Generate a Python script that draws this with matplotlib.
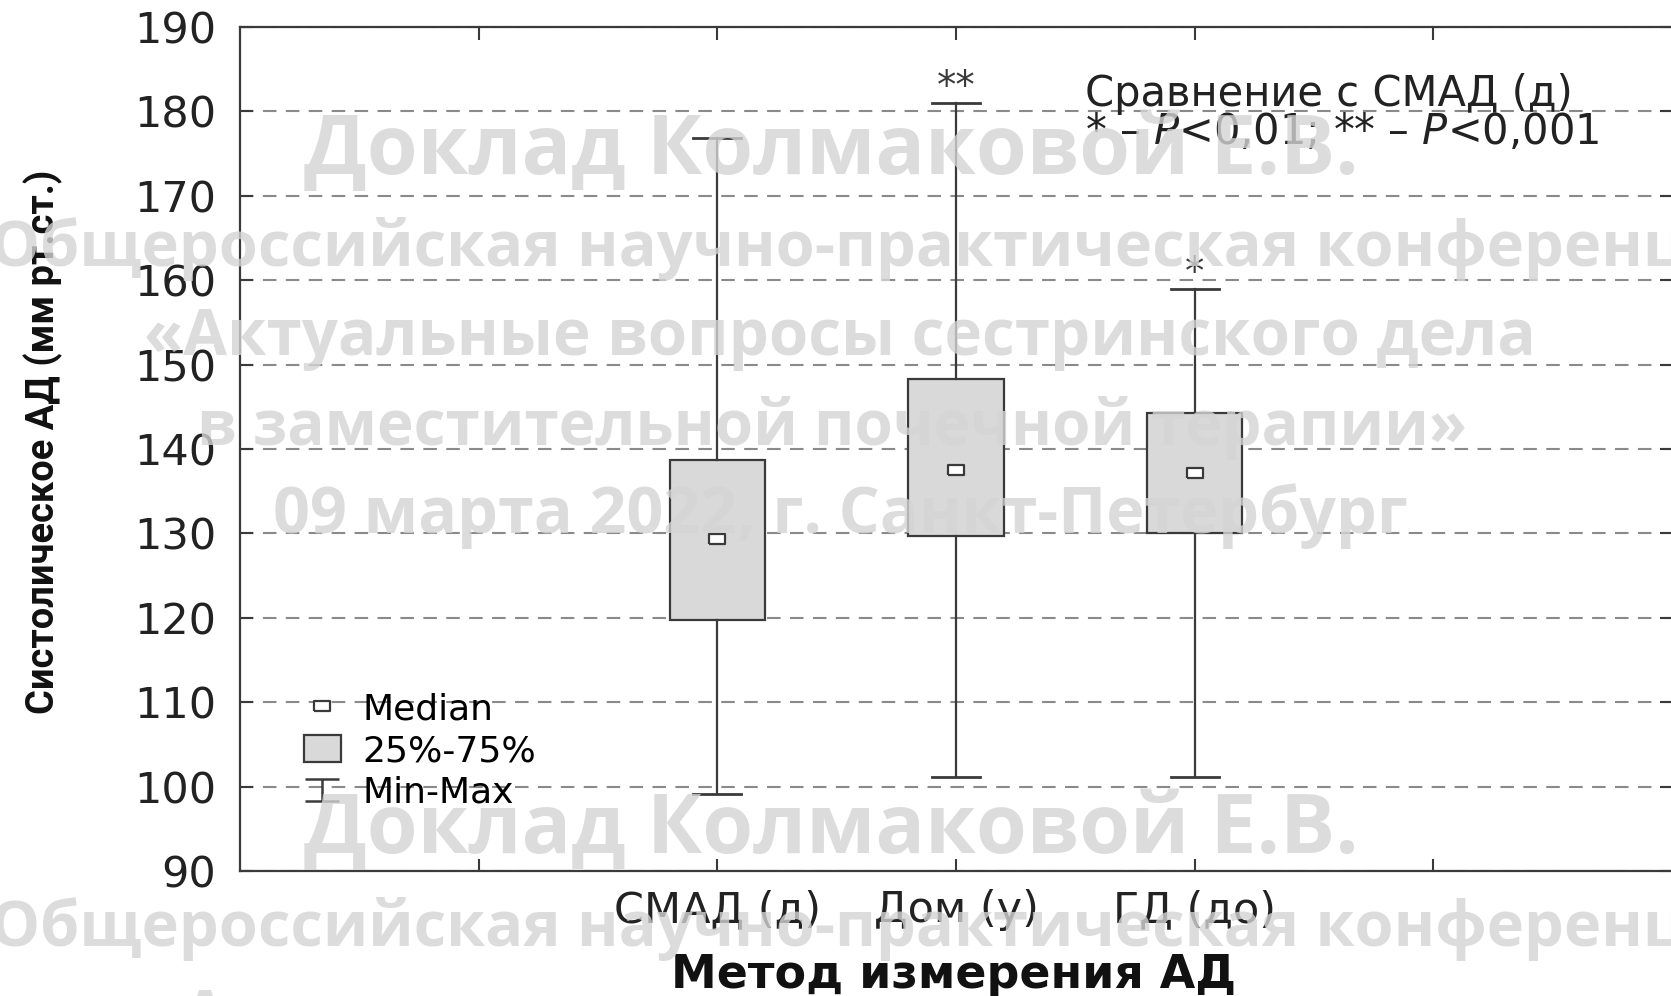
import matplotlib
matplotlib.use("Agg")
import matplotlib.pyplot as plt
from matplotlib.lines import Line2D
from matplotlib.patches import Patch
from matplotlib.path import Path

# data
categories = ['СМАД (д)', 'Дом (у)', 'ГД (до)']
positions = [2, 3, 4]
q1 = [119.7, 129.7, 130.0]
median = [129.3, 137.5, 137.2]
q3 = [138.7, 148.3, 144.3]
vmin = [99.1, 101.1, 101.1]
vmax = [176.8, 181.0, 158.9]
stars = ['', '**', '*']
yticks = list(range(90, 191, 10))

watermark = ['Доклад Колмаковой Е.В.',
             'Общероссийская научно-практическая конференция',
             '«Актуальные вопросы сестринского дела',
             'в заместительной почечной терапии»',
             '09 марта 2022, г. Санкт-Петербург',
             'Доклад Колмаковой Е.В.',
             'Общероссийская научно-практическая конференция',
             '«Актуальные вопросы сестринского дела']
# pixel layout of the watermark lines: centre x, baseline y, width
wm_x = [831, 880, 840, 832, 840, 831, 880, 840]
wm_y = [174, 266, 355, 445, 533, 853, 946, 1036]
wm_w = [1055, 1780, 1391, 1271, 1135, 1055, 1780, 1391]

plt.rcParams['font.family'] = ['DejaVu Sans']
dark = '#3a3a3a'
box_fill = '#d9d9d9'

W, H = 1671, 996
fig = plt.figure(figsize=(W / 100, H / 100), dpi=100)
ax = fig.add_axes([240 / W, 1 - 871 / H, (1672 - 240) / W, (871 - 27) / H])
renderer = fig.canvas.get_renderer()


def fit(txt, target, vertical=False):
    # scale font so the text spans the same length as in the reference
    bb = txt.get_window_extent(renderer)
    size = bb.height if vertical else bb.width
    txt.set_fontsize(txt.get_fontsize() * target / size)


stats = [dict(med=m, q1=a, q3=b, whislo=lo, whishi=hi, fliers=[])
         for m, a, b, lo, hi in zip(median, q1, q3, vmin, vmax)]
ax.bxp(stats, positions=positions, widths=0.4, capwidths=0.2,
       patch_artist=True, showfliers=False,
       boxprops=dict(facecolor=box_fill, edgecolor=dark, linewidth=1.6),
       whiskerprops=dict(color=dark, linewidth=1.6),
       capprops=dict(color=dark, linewidth=2.0),
       medianprops=dict(linewidth=0), zorder=3)

rect = Path([(-1, -0.7), (1, -0.7), (1, 0.7), (-1, 0.7), (-1, -0.7)])
ax.plot(positions, median, ls='none', marker=rect, ms=11, mfc='white',
        mec=dark, mew=1.6, zorder=4)

for x, hi, s in zip(positions, vmax, stars):
    if s:
        ax.text(x, hi + 0.6, s, ha='center', va='baseline', fontsize=28,
                color=dark)

ax.text(3.54, 182.1, 'Сравнение с СМАД (д)', fontsize=30, va='center',
        color='#222222')
ax.text(3.54, 177.6, '* – $P$<0,01; ** – $P$<0,001', fontsize=30,
        va='center', color='#222222')

ax.set_xlim(0, 6)
ax.set_ylim(90, 190)
ax.set_yticks(yticks)
ax.set_xticks([1, 2, 3, 4, 5], ['', *categories, ''])
ax.yaxis.grid(True, color='#8a8a8a', linewidth=1.5, linestyle=(0, (6.5, 4.5)))
ax.set_axisbelow(True)
ax.tick_params(axis='both', direction='in', length=9, width=1.5,
               color=dark, labelsize=31, labelcolor='#222222')
ax.tick_params(axis='y', pad=17, right=True)
ax.tick_params(axis='x', pad=13, top=True)
for sp in ax.spines.values():
    sp.set_color(dark)
    sp.set_linewidth(1.6)

# legend
ibeam = Path([(-1, 0.65), (1, 0.65), (0, 0.65), (0, -0.65), (-1, -0.65), (1, -0.65)],
             [Path.MOVETO, Path.LINETO, Path.MOVETO, Path.LINETO, Path.MOVETO, Path.LINETO])
handles = [Line2D([], [], ls='none', marker=rect, ms=11, mfc='white', mec=dark, mew=1.6),
           Patch(facecolor=box_fill, edgecolor=dark, linewidth=1.6),
           Line2D([], [], ls='none', marker=ibeam, ms=24, mfc='none', mec=dark, mew=1.8)]
ax.legend(handles, ['Median', '25%-75%', 'Min-Max'], loc='upper left',
          bbox_to_anchor=(0.045, 0.212), frameon=False, fontsize=26,
          handlelength=1.0, handleheight=0.8, handletextpad=0.6,
          labelspacing=0.22, borderpad=0, borderaxespad=0)

ylab = fig.text(43 / W, 1 - 442 / H, 'Систолическое АД (мм рт.ст.)', rotation=90,
                ha='center', va='center', fontsize=30, fontweight='bold',
                family=['Roboto', 'DejaVu Sans'], color='#111111')
fit(ylab, 544, vertical=True)
fig.text(954 / W, 1 - 975 / H, 'Метод измерения АД', ha='center', va='center',
         fontsize=33, fontweight='bold', color='#111111')

# watermark over the chart
for line, xc, yb, wd in zip(watermark, wm_x, wm_y, wm_w):
    t = fig.text(xc / W, 1 - yb / H, line, ha='center', va='baseline', fontsize=64,
                 family=['Open Sans', 'DejaVu Sans'], fontweight='bold',
                 color='#d4d4d4', alpha=0.8, zorder=10)
    fit(t, wd)

fig.savefig('out.png', dpi=100)
